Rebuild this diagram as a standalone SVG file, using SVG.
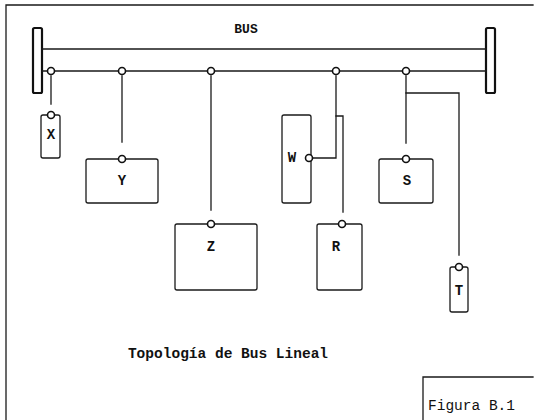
<svg xmlns="http://www.w3.org/2000/svg" width="534" height="420" viewBox="0 0 534 420">
<style>
.ln{fill:none;stroke:#1a1a1a;stroke-width:1.3;stroke-linecap:square}
.bx{fill:none;stroke:#1a1a1a;stroke-width:1.3}
.term{fill:#fff;stroke:#111;stroke-width:2.2}
.port{fill:#fff;stroke:#111;stroke-width:1.6}
.lbl{font-family:"Liberation Mono","DejaVu Sans Mono",monospace;font-weight:bold;font-size:14px;fill:#111;text-anchor:middle}
.cap{font-family:"Liberation Mono","DejaVu Sans Mono",monospace;font-size:14.5px;fill:#111}
</style>
<rect width="534" height="420" fill="#fff"/>
<g id="frame">
<path class="ln" d="M6,5 H533 M6,5 V420"/>
<path class="ln" d="M423,377 H533 M423,377 V420"/>
</g>
<g id="bus">
<rect class="term" x="33" y="28" width="9" height="65" rx="1.5"/>
<rect class="term" x="486" y="28" width="9" height="65" rx="1.5"/>
<path class="ln" d="M42,49 H486 M42,71 H486"/>
<text class="lbl" x="246" y="33" style="font-size:13px">BUS</text>
</g>
<g id="connectors">
<path class="ln" d="M51,76 V104"/>
<path class="ln" d="M122,76 V142"/>
<path class="ln" d="M211,76 V210"/>
<path class="ln" d="M336,76 V158 H313"/>
<path class="ln" d="M336,116 H343 V212"/>
<path class="ln" d="M406,76 V143"/>
<path class="ln" d="M406,93 H459 V255"/>
</g>
<g id="bus-taps">
<circle class="port" cx="51" cy="71" r="3.5"/>
<circle class="port" cx="122" cy="71" r="3.5"/>
<circle class="port" cx="211" cy="71" r="3.5"/>
<circle class="port" cx="336" cy="71" r="3.5"/>
<circle class="port" cx="406" cy="71" r="3.5"/>
</g>
<g id="node-X">
<rect class="bx" x="41" y="115" width="19" height="43" rx="2"/>
<circle class="port" cx="51" cy="115" r="3.5"/>
<text class="lbl" x="51" y="139">X</text>
</g>
<g id="node-Y">
<rect class="bx" x="86" y="159" width="72" height="44" rx="2"/>
<circle class="port" cx="122" cy="159" r="3.5"/>
<text class="lbl" x="122" y="185">Y</text>
</g>
<g id="node-Z">
<rect class="bx" x="175" y="224" width="82" height="66" rx="2"/>
<circle class="port" cx="211" cy="224" r="3.5"/>
<text class="lbl" x="211" y="251">Z</text>
</g>
<g id="node-W">
<rect class="bx" x="282" y="115" width="29" height="88" rx="2"/>
<circle class="port" cx="309" cy="158" r="3.5"/>
<text class="lbl" x="292" y="162">W</text>
</g>
<g id="node-R">
<rect class="bx" x="317" y="224" width="45" height="66" rx="2"/>
<circle class="port" cx="342" cy="224" r="3.5"/>
<text class="lbl" x="336" y="251">R</text>
</g>
<g id="node-S">
<rect class="bx" x="379" y="159" width="54" height="44" rx="2"/>
<circle class="port" cx="406" cy="159" r="3.5"/>
<text class="lbl" x="407" y="185">S</text>
</g>
<g id="node-T">
<rect class="bx" x="450" y="267" width="18" height="45" rx="2"/>
<circle class="port" cx="459" cy="267" r="3.5"/>
<text class="lbl" x="459" y="295">T</text>
</g>
<text class="lbl" x="228" y="358" style="font-size:14.5px">Topología de Bus Lineal</text>
<text class="cap" x="428" y="410">Figura B.1</text>
</svg>
